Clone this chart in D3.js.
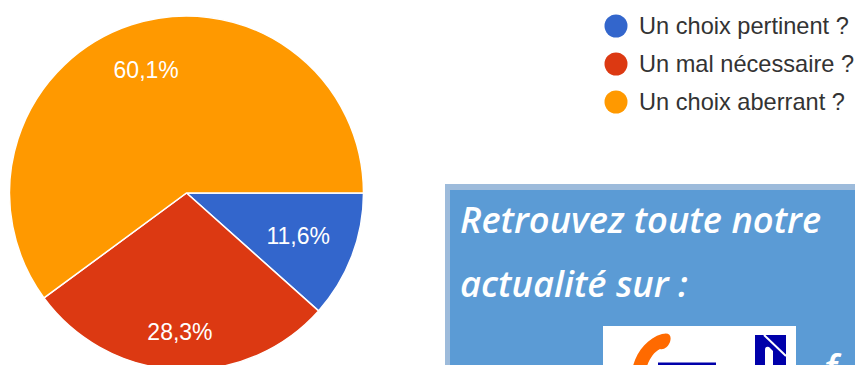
<!DOCTYPE html>
<html lang="fr">
<head>
<meta charset="utf-8">
<script src="https://cdn.jsdelivr.net/npm/d3@7"></script>
<style>
html,body{margin:0;padding:0;background:#fff;overflow:hidden}
svg{display:block}
</style>
</head>
<body>
<svg id="chart" width="855" height="365"></svg>
<script>
const categories = ["Un choix pertinent ?", "Un mal nécessaire ?", "Un choix aberrant ?"];
const values = [11.6, 28.3, 60.1];
const labels = ["11,6%", "28,3%", "60,1%"];
const colors = ["#3366cc", "#dc3912", "#ff9900"];
const promoLines = ["Retrouvez toute notre", "actualité sur :"];

const svg = d3.select("#chart");
const center = {x: 186.5, y: 193};
const radius = 177;
// Distance of each slice label from the centre, as a share of the radius
const labelReach = [0.675, 0.785, 0.73];

// Pie, clockwise from three o'clock
const pie = d3.pie().sort(null).startAngle(Math.PI / 2).endAngle(Math.PI * 2.5);
const arc = d3.arc().innerRadius(0).outerRadius(radius);
const slices = pie(values);

const pieGroup = svg.append("g").attr("transform", `translate(${center.x},${center.y})`);
pieGroup.selectAll("path").data(slices).join("path")
  .attr("d", arc)
  .attr("fill", (d, i) => colors[i])
  .attr("stroke", "#fff")
  .attr("stroke-width", 1.5);
pieGroup.selectAll("text").data(slices).join("text")
  .attr("transform", (d, i) => {
    const r = radius * labelReach[i];
    return `translate(${d3.arc().innerRadius(r).outerRadius(r).centroid(d)})`;
  })
  .attr("text-anchor", "middle")
  .attr("dy", "0.35em")
  .attr("font-family", "Liberation Sans, Arial, sans-serif")
  .attr("font-size", 23)
  .attr("fill", "#fff")
  .text((d, i) => labels[i]);

// Legend
const legendY = d3.scalePoint().domain(categories).range([26, 102]);
const legend = svg.append("g").selectAll("g").data(categories).join("g")
  .attr("transform", d => `translate(0,${legendY(d)})`);
legend.append("circle")
  .attr("cx", 616).attr("r", 11.5)
  .attr("fill", (d, i) => colors[i]);
legend.append("text")
  .attr("x", 639).attr("dy", "0.35em")
  .attr("font-family", "Liberation Sans, Arial, sans-serif")
  .attr("font-size", 23.6)
  .attr("fill", "#333")
  .text(d => d);

// Call-out panel
const panel = svg.append("g");
panel.append("rect").attr("x", 445).attr("y", 184).attr("width", 420).attr("height", 190).attr("fill", "#9dbbdb");
panel.append("rect").attr("x", 450).attr("y", 190).attr("width", 415).attr("height", 185).attr("fill", "#5b9bd5");
panel.selectAll("text.promo").data(promoLines).join("text")
  .attr("class", "promo")
  .attr("x", 460)
  .attr("y", (d, i) => 233 + i * 64)
  .attr("font-family", "Open Sans, sans-serif")
  .attr("font-style", "italic")
  .attr("font-weight", 600)
  .attr("font-size", 36.3)
  .attr("fill", "#fff")
  .text(d => d);

// Logo, running off the bottom edge
const logo = panel.append("g");
logo.append("rect").attr("x", 603).attr("y", 326).attr("width", 193).attr("height", 50).attr("fill", "#fff");
logo.append("path").attr("fill", "#ff6a00")
  .attr("d", "M633 366C637 351 648 338 662 334C669 332 672 335 670 342C668 347 664 350 660 349C654 352 650 358 647 366Z");
logo.append("rect").attr("x", 658).attr("y", 362.5).attr("width", 58).attr("height", 12).attr("fill", "#0000aa");
logo.append("rect").attr("x", 755).attr("y", 335).attr("width", 31).attr("height", 32).attr("fill", "#0000aa");
logo.append("path").attr("fill", "none").attr("stroke", "#fff").attr("stroke-width", 2)
  .attr("d", "M764 335L786 356");
logo.append("path").attr("fill", "#fff")
  .attr("d", "M765 367V350Q765 346 769 347L773 351V367Z");

panel.append("text")
  .attr("x", 824).attr("y", 382)
  .attr("font-family", "Open Sans, sans-serif")
  .attr("font-style", "italic")
  .attr("font-weight", 600)
  .attr("font-size", 38)
  .attr("fill", "#fff")
  .text("f");
</script>
</body>
</html>
